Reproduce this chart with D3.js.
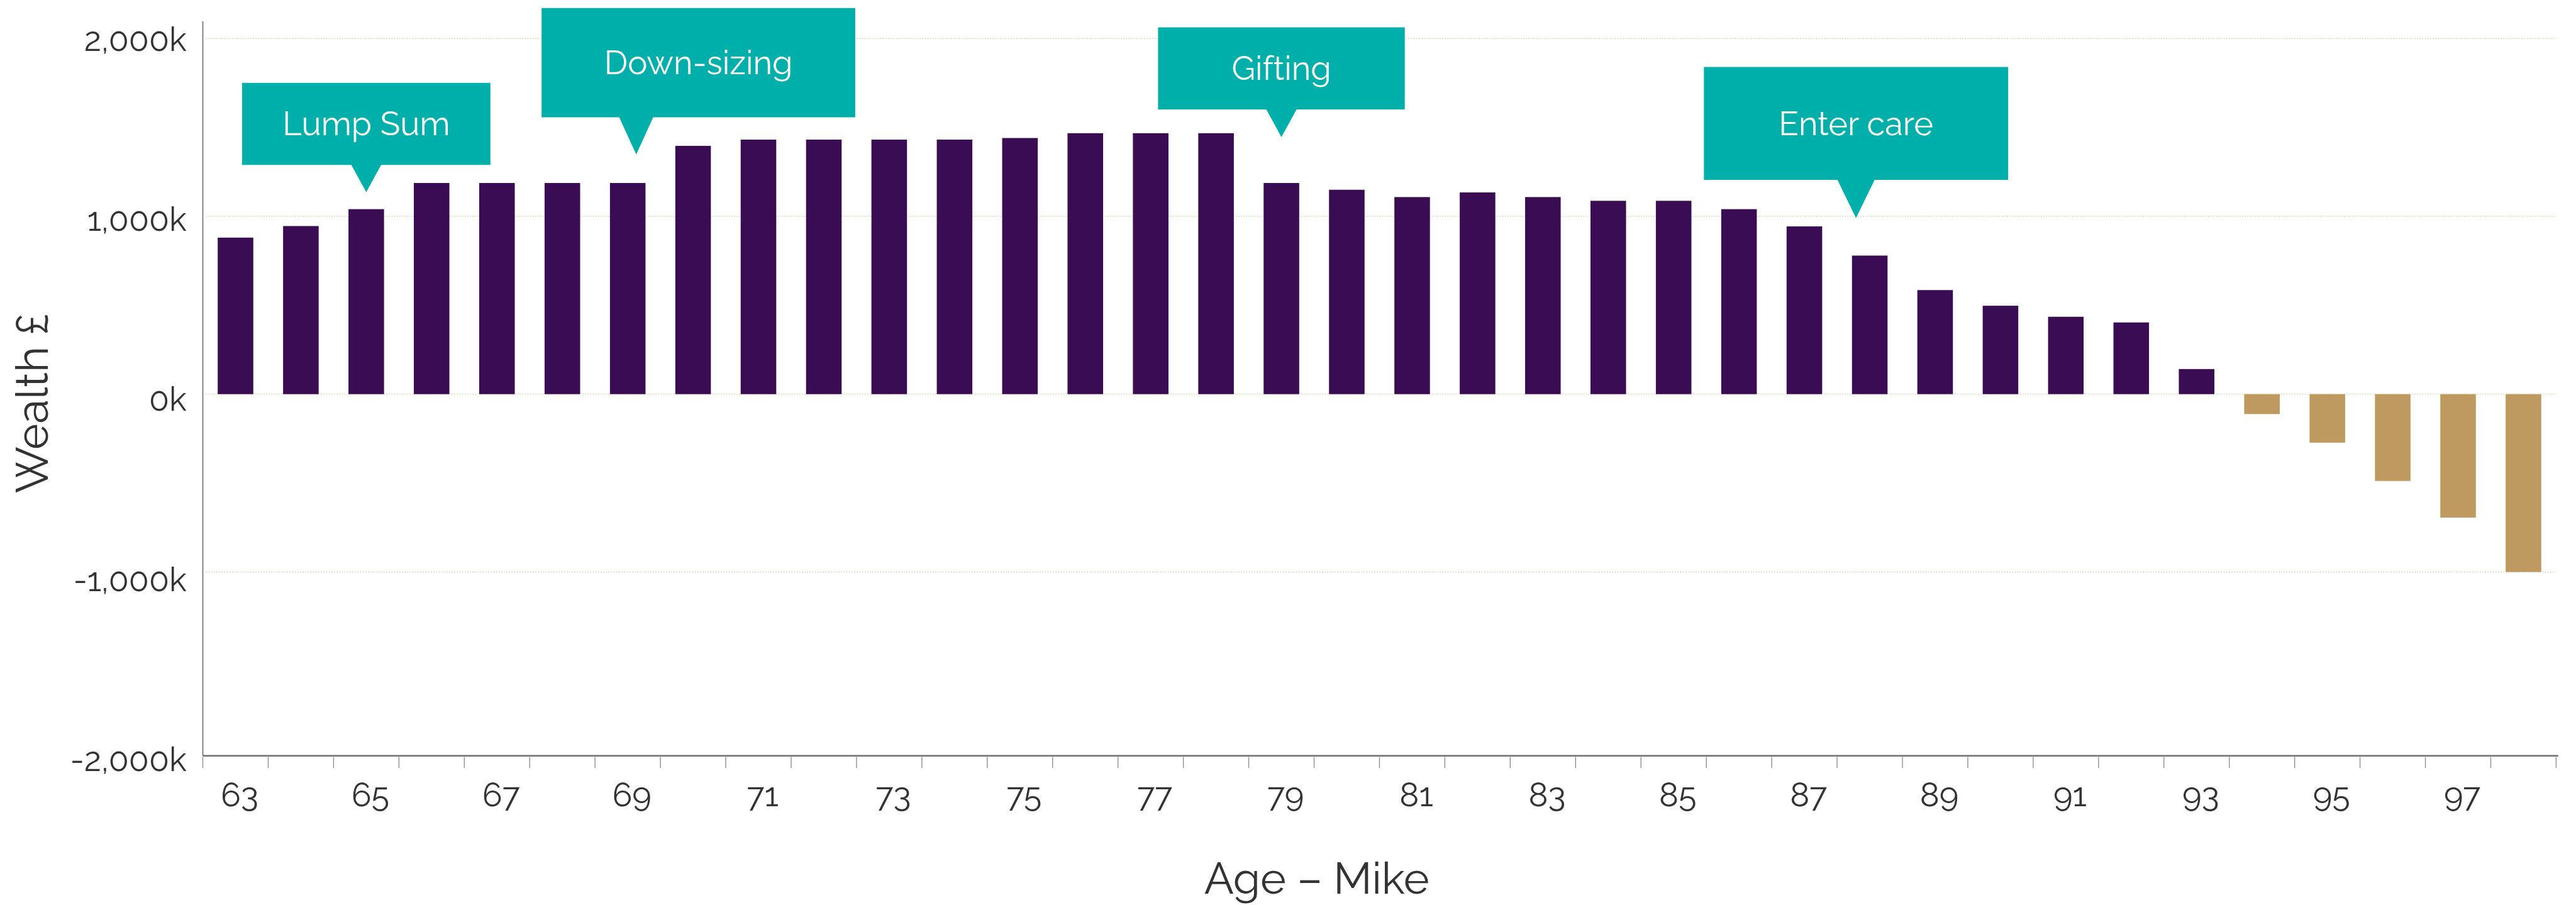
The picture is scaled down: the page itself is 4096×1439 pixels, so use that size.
<!DOCTYPE html>
<html>
<head>
<meta charset="utf-8">
<script src="https://cdn.jsdelivr.net/npm/d3@7"></script>
<style>
  html, body { margin: 0; padding: 0; background: #ffffff; }
  svg { display: block; }
  text { font-family: "Raleway", "Lato", "Open Sans", sans-serif; }
</style>
</head>
<body>
<svg id="chart" width="4096" height="1439"></svg>
<script>
// Projected wealth by age (thousands of pounds)
const ages = d3.range(63, 99);
const wealth = [
  880, 945, 1040, 1187, 1187, 1187, 1187, 1396, 1431, 1431,
  1431, 1431, 1440, 1467, 1467, 1467, 1187, 1149, 1108, 1134,
  1108, 1087, 1087, 1040, 943, 779, 585, 497, 435, 403,
  141, -112, -273, -488, -694, -1000
];
const yTickValues = [-2000, -1000, 0, 1000, 2000];
const xTickLabels = ages.filter(a => a % 2 === 1);

// Life-event callouts: text, the age and wealth the pointer aims at
const eventLabels = ["Lump Sum", "Down-sizing", "Gifting", "Enter care"];
const eventAges = [65, 69.13, 79, 87.79];
const eventValues = [1136, 1348, 1445, 990];

// Callout box layout (box width/height, gap between box and pointer tip, pointer base, box shift)
const calloutLayout = [
  { w: 475, h: 157, gap: 52, base: 57, dx: 0 },
  { w: 600, h: 209, gap: 71, base: 65, dx: 119 },
  { w: 472, h: 157, gap: 53, base: 58, dx: 0 },
  { w: 582, h: 216, gap: 73, base: 71, dx: 0 }
];

const colors = { positive: "#390c53", negative: "#be9a60", callout: "#00afaa",
                 grid: "#e3d5bc", axis: "#6f6f6f", tick: "#8a8a8a", text: "#333333" };

// Chart is laid out on a 4928 x 1731 design grid and scaled to the window
const S = 4096 / 4928;
const svg = d3.select("#chart");
const g = svg.append("g").attr("transform", `scale(${S})`);

const plot = { left: 388, right: 4890, top: 41, bottom: 1446 };

const x = d3.scaleBand()
  .domain(ages)
  .range([plot.left, plot.right])
  .paddingInner(0.456)
  .paddingOuter(0.228);
const step = x.step();
const centerX = d3.scaleLinear()
  .domain([ages[0], ages[ages.length - 1]])
  .range([x(ages[0]) + x.bandwidth() / 2, x(ages[ages.length - 1]) + x.bandwidth() / 2]);

const y = d3.scaleLinear().domain([-2000, 2000]).range([1434.5, 73.5]);
const yLabel = d3.scaleLinear().domain([-2000, 2000]).range([1475, 97]);
// Thousands separator with a plain hyphen for negatives
const fmt = v => (v < 0 ? "-" : "") + d3.format(",")(Math.abs(v)) + "k";

// Dotted gridlines
g.append("g").selectAll("line")
  .data(yTickValues.filter(v => v > -2000))
  .join("line")
  .attr("x1", plot.left + 6).attr("x2", plot.right)
  .attr("y1", d => y(d)).attr("y2", d => y(d))
  .attr("stroke", colors.grid)
  .attr("stroke-width", 2.2)
  .attr("stroke-dasharray", "2,3");

// Y-axis labels
g.append("g").selectAll("text")
  .data(yTickValues)
  .join("text")
  .attr("x", 357)
  .attr("y", d => yLabel(d))
  .attr("text-anchor", "end")
  .attr("font-size", 63)
  .attr("fill", colors.text)
  .text(fmt);

// Bars
g.append("g").selectAll("rect")
  .data(ages.map((a, i) => ({ age: a, value: wealth[i] })))
  .join("rect")
  .attr("x", d => x(d.age))
  .attr("width", x.bandwidth())
  .attr("y", d => y(Math.max(0, d.value)))
  .attr("height", d => Math.abs(y(d.value) - y(0)))
  .attr("fill", d => d.value >= 0 ? colors.positive : colors.negative);

// Axis lines
g.append("line")
  .attr("x1", plot.left).attr("x2", plot.left)
  .attr("y1", plot.top).attr("y2", plot.bottom)
  .attr("stroke", colors.axis).attr("stroke-width", 2);
g.append("line")
  .attr("x1", plot.left).attr("x2", plot.right + 4)
  .attr("y1", plot.bottom).attr("y2", plot.bottom)
  .attr("stroke", colors.axis).attr("stroke-width", 3);

// Category boundary ticks
g.append("g").selectAll("line")
  .data(d3.range(ages.length + 1))
  .join("line")
  .attr("x1", i => plot.left + i * step).attr("x2", i => plot.left + i * step)
  .attr("y1", plot.bottom + 2).attr("y2", plot.bottom + 23)
  .attr("stroke", colors.tick).attr("stroke-width", 1.6);

// Age labels on every other category
g.append("g").selectAll("text")
  .data(xTickLabels)
  .join("text")
  .attr("x", d => x(d) + x.bandwidth() / 2 + 8)
  .attr("y", 1543)
  .attr("text-anchor", "middle")
  .attr("font-size", 63)
  .attr("fill", colors.text)
  .text(d => d);

// Axis titles
g.append("text")
  .attr("transform", "translate(92,771) rotate(-90)")
  .attr("text-anchor", "middle")
  .attr("font-size", 85)
  .attr("fill", colors.text)
  .text("Wealth £");
g.append("text")
  .attr("x", 2519).attr("y", 1710)
  .attr("text-anchor", "middle")
  .attr("font-size", 84)
  .attr("fill", colors.text)
  .text("Age – Mike");

// Callouts
const callouts = g.append("g").selectAll("g")
  .data(eventLabels.map((t, i) => ({ text: t, age: eventAges[i], value: eventValues[i], lay: calloutLayout[i] })))
  .join("g");

callouts.append("path")
  .attr("fill", colors.callout)
  .attr("d", d => {
    const tx = centerX(d.age), ty = y(d.value);
    const L = d.lay;
    const bottom = ty - L.gap, top = bottom - L.h;
    const cx = tx + L.dx;
    const left = cx - L.w / 2, right = cx + L.w / 2;
    return `M${left},${top}H${right}V${bottom}H${tx + L.base / 2}L${tx},${ty}L${tx - L.base / 2},${bottom}H${left}Z`;
  });

callouts.append("text")
  .attr("x", d => centerX(d.age) + d.lay.dx)
  .attr("y", d => y(d.value) - d.lay.gap - d.lay.h / 2 + 22)
  .attr("text-anchor", "middle")
  .attr("font-size", 63)
  .attr("fill", "#ffffff")
  .text(d => d.text);
</script>
</body>
</html>
